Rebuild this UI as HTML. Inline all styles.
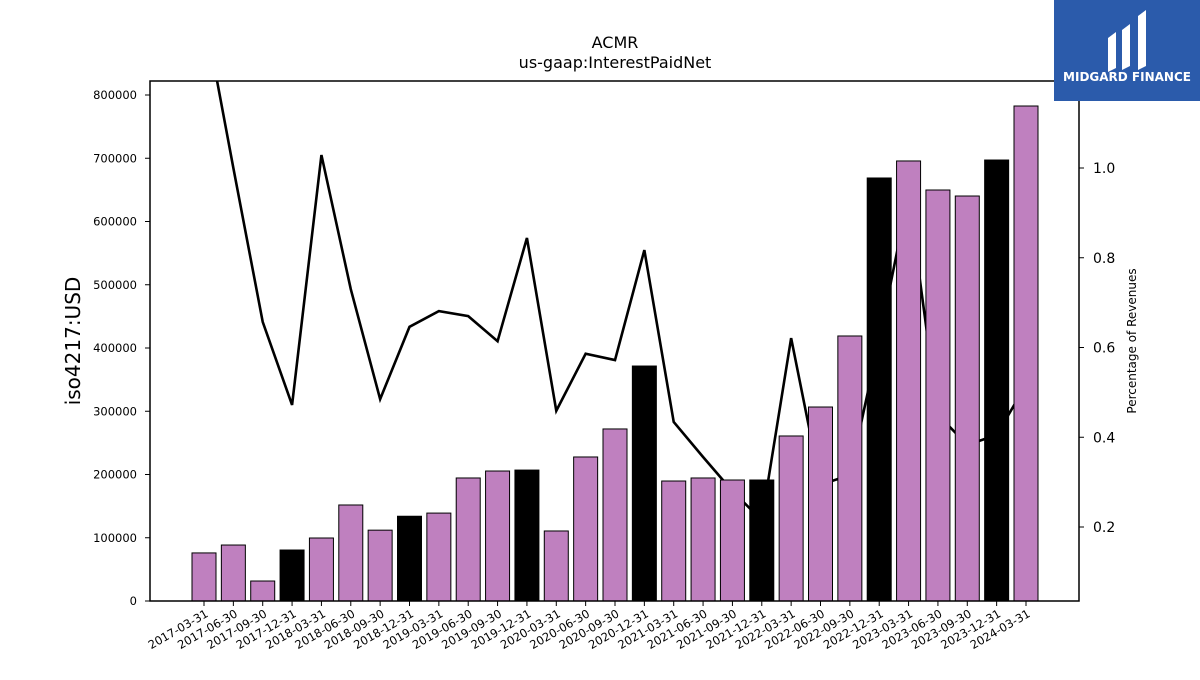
<!DOCTYPE html>
<html><head><meta charset="utf-8"><style>
body{margin:0;background:#fff;font-family:"Liberation Sans","DejaVu Sans",sans-serif}
</style></head><body>
<svg width="1200" height="675" xmlns="http://www.w3.org/2000/svg" font-family="'DejaVu Sans','Liberation Sans',sans-serif">
<text x="615" y="48" text-anchor="middle" font-size="16">ACMR</text>
<text x="615" y="68" text-anchor="middle" font-size="16">us-gaap:InterestPaidNet</text>
<g id="plot"></g>
<rect x="150" y="81" width="929" height="520" fill="none" stroke="#000" stroke-width="1.5"/>
<text transform="translate(80,341) rotate(-90)" text-anchor="middle" font-size="20">iso4217:USD</text>
<text transform="translate(1136,341) rotate(-90)" text-anchor="middle" font-size="12">Percentage of Revenues</text>
<g>
<rect x="1054" y="0" width="146" height="101" fill="#2b5bab"/>
<path d="M1108 38 l8 -6 v36 l-8 4z M1122 30 l8 -6 v42 l-8 4z M1138 16 l8 -6 v56 l-8 4z" fill="#fff"/>
<text x="1127" y="81" text-anchor="middle" font-size="12" font-weight="bold" fill="#fff">MIDGARD FINANCE</text>
</g>
</svg>
<script>
const categories=["2017-03-31","2017-06-30","2017-09-30","2017-12-31","2018-03-31","2018-06-30","2018-09-30","2018-12-31","2019-03-31","2019-06-30","2019-09-30","2019-12-31","2020-03-31","2020-06-30","2020-09-30","2020-12-31","2021-03-31","2021-06-30","2021-09-30","2021-12-31","2022-03-31","2022-06-30","2022-09-30","2022-12-31","2023-03-31","2023-06-30","2023-09-30","2023-12-31","2024-03-31"];
const interestPaid=[76000,88500,31600,80600,99600,151800,112000,134000,139000,194500,205500,207000,110700,227700,272000,371500,189700,194500,191300,191300,260900,306700,419000,668800,695700,649800,640300,697200,782600];
const pctRevenue=[1.35,1.0,0.657,0.472,1.029,0.73,0.485,0.646,0.681,0.67,0.614,0.844,0.459,0.586,0.572,0.817,0.434,0.356,0.28,0.215,0.621,0.294,0.316,0.617,0.94,0.45,0.383,0.405,0.517];
const leftTicks=[0,100000,200000,300000,400000,500000,600000,700000,800000];
const rightTicks=[0.2,0.4,0.6,0.8,1.0];
const NS="http://www.w3.org/2000/svg";
const g=document.getElementById('plot');
const X0=150,X1=1079,Y0=81,Y1=601;
const xPos=i=>204+i*(822/28);
const yL=v=>601-v*(506/800000);
const yR=v=>616.75-v*448.75;
function mk(t,a){const e=document.createElementNS(NS,t);for(const k in a)e.setAttribute(k,a[k]);g.appendChild(e);return e;}
const cp=mk('clipPath',{id:'cp'});const cr=document.createElementNS(NS,'rect');
cr.setAttribute('x',X0);cr.setAttribute('y',Y0);cr.setAttribute('width',X1-X0);cr.setAttribute('height',Y1-Y0);cp.appendChild(cr);
// line (behind bars)
const pts=pctRevenue.map((v,i)=>xPos(i)+','+yR(v)).join(' ');
const ln=mk('polyline',{points:pts,fill:'none',stroke:'#000','stroke-width':2.6,'clip-path':'url(#cp)'});


interestPaid.forEach((v,i)=>{
 const dec=categories[i].endsWith('12-31');
 const r=mk('rect',{x:xPos(i)-12,y:yL(v),width:24,height:601-yL(v),fill:dec?'#000':'#bf80bf',stroke:'#000','stroke-width':1});
 
 
 mk('line',{x1:xPos(i),x2:xPos(i),y1:601,y2:606,stroke:'#000'});
 const t=mk('text',{'font-size':11.5,'text-anchor':'end',transform:`translate(${xPos(i)+5},${616}) rotate(-30)`});
 t.textContent=categories[i];
 
 
});
leftTicks.forEach(v=>{
 mk('line',{x1:145,x2:150,y1:yL(v),y2:yL(v),stroke:'#000'});
 const t=mk('text',{x:137,y:yL(v)+4,'font-size':11.5,'text-anchor':'end'});t.textContent=v;
 
 
});
rightTicks.forEach(v=>{
 mk('line',{x1:1079,x2:1084,y1:yR(v),y2:yR(v),stroke:'#000'});
 const t=mk('text',{x:1093,y:yR(v)+5,'font-size':14});t.textContent=v.toFixed(1);
 
 
});
</script>
</body></html>
